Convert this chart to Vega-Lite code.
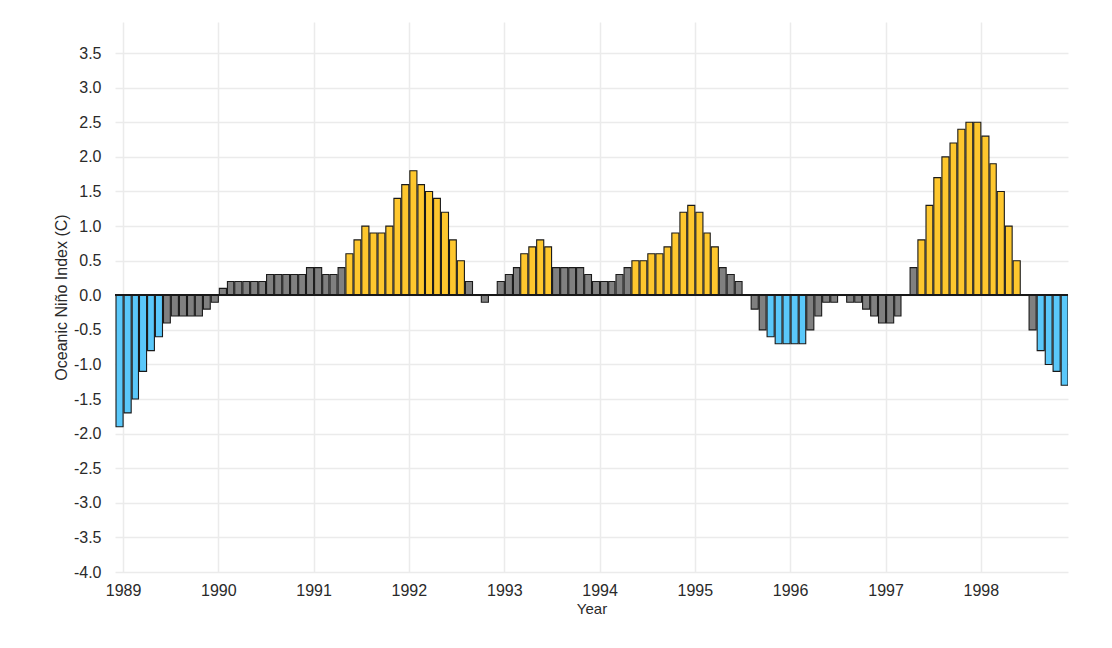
{
  "$schema": "https://vega.github.io/schema/vega-lite/v6.json",
  "width": 953,
  "height": 550,
  "autosize": {"type": "none"},
  "padding": {"left": 115, "top": 22, "right": 44, "bottom": 76},
  "background": "white",
  "config": {
    "locale": {"number": {"decimal": ".", "thousands": ",", "grouping": [3], "currency": ["$", ""], "minus": "-"}},
    "font": "Liberation Sans",
    "view": {"stroke": null},
    "axis": {
      "labelFont": "Liberation Sans",
      "titleFont": "Liberation Sans",
      "labelFontSize": 16,
      "titleFontSize": 15,
      "titleFontWeight": "normal",
      "labelColor": "#2a2a2a",
      "titleColor": "#2a2a2a",
      "gridColor": "#ebebeb",
      "gridWidth": 1.5,
      "domain": false,
      "ticks": false,
      "labelOverlap": false
    }
  },
  "data": {
    "values": [
      {"date": "1988-12-01", "oni": -1.9, "phase": "La Niña"},
      {"date": "1989-01-01", "oni": -1.7, "phase": "La Niña"},
      {"date": "1989-02-01", "oni": -1.5, "phase": "La Niña"},
      {"date": "1989-03-01", "oni": -1.1, "phase": "La Niña"},
      {"date": "1989-04-01", "oni": -0.8, "phase": "La Niña"},
      {"date": "1989-05-01", "oni": -0.6, "phase": "La Niña"},
      {"date": "1989-06-01", "oni": -0.4, "phase": "Neutral"},
      {"date": "1989-07-01", "oni": -0.3, "phase": "Neutral"},
      {"date": "1989-08-01", "oni": -0.3, "phase": "Neutral"},
      {"date": "1989-09-01", "oni": -0.3, "phase": "Neutral"},
      {"date": "1989-10-01", "oni": -0.3, "phase": "Neutral"},
      {"date": "1989-11-01", "oni": -0.2, "phase": "Neutral"},
      {"date": "1989-12-01", "oni": -0.1, "phase": "Neutral"},
      {"date": "1990-01-01", "oni": 0.1, "phase": "Neutral"},
      {"date": "1990-02-01", "oni": 0.2, "phase": "Neutral"},
      {"date": "1990-03-01", "oni": 0.2, "phase": "Neutral"},
      {"date": "1990-04-01", "oni": 0.2, "phase": "Neutral"},
      {"date": "1990-05-01", "oni": 0.2, "phase": "Neutral"},
      {"date": "1990-06-01", "oni": 0.2, "phase": "Neutral"},
      {"date": "1990-07-01", "oni": 0.3, "phase": "Neutral"},
      {"date": "1990-08-01", "oni": 0.3, "phase": "Neutral"},
      {"date": "1990-09-01", "oni": 0.3, "phase": "Neutral"},
      {"date": "1990-10-01", "oni": 0.3, "phase": "Neutral"},
      {"date": "1990-11-01", "oni": 0.3, "phase": "Neutral"},
      {"date": "1990-12-01", "oni": 0.4, "phase": "Neutral"},
      {"date": "1991-01-01", "oni": 0.4, "phase": "Neutral"},
      {"date": "1991-02-01", "oni": 0.3, "phase": "Neutral"},
      {"date": "1991-03-01", "oni": 0.3, "phase": "Neutral"},
      {"date": "1991-04-01", "oni": 0.4, "phase": "Neutral"},
      {"date": "1991-05-01", "oni": 0.6, "phase": "El Niño"},
      {"date": "1991-06-01", "oni": 0.8, "phase": "El Niño"},
      {"date": "1991-07-01", "oni": 1.0, "phase": "El Niño"},
      {"date": "1991-08-01", "oni": 0.9, "phase": "El Niño"},
      {"date": "1991-09-01", "oni": 0.9, "phase": "El Niño"},
      {"date": "1991-10-01", "oni": 1.0, "phase": "El Niño"},
      {"date": "1991-11-01", "oni": 1.4, "phase": "El Niño"},
      {"date": "1991-12-01", "oni": 1.6, "phase": "El Niño"},
      {"date": "1992-01-01", "oni": 1.8, "phase": "El Niño"},
      {"date": "1992-02-01", "oni": 1.6, "phase": "El Niño"},
      {"date": "1992-03-01", "oni": 1.5, "phase": "El Niño"},
      {"date": "1992-04-01", "oni": 1.4, "phase": "El Niño"},
      {"date": "1992-05-01", "oni": 1.2, "phase": "El Niño"},
      {"date": "1992-06-01", "oni": 0.8, "phase": "El Niño"},
      {"date": "1992-07-01", "oni": 0.5, "phase": "El Niño"},
      {"date": "1992-08-01", "oni": 0.2, "phase": "Neutral"},
      {"date": "1992-09-01", "oni": 0.0, "phase": "Neutral"},
      {"date": "1992-10-01", "oni": -0.1, "phase": "Neutral"},
      {"date": "1992-11-01", "oni": 0.0, "phase": "Neutral"},
      {"date": "1992-12-01", "oni": 0.2, "phase": "Neutral"},
      {"date": "1993-01-01", "oni": 0.3, "phase": "Neutral"},
      {"date": "1993-02-01", "oni": 0.4, "phase": "Neutral"},
      {"date": "1993-03-01", "oni": 0.6, "phase": "El Niño"},
      {"date": "1993-04-01", "oni": 0.7, "phase": "El Niño"},
      {"date": "1993-05-01", "oni": 0.8, "phase": "El Niño"},
      {"date": "1993-06-01", "oni": 0.7, "phase": "El Niño"},
      {"date": "1993-07-01", "oni": 0.4, "phase": "Neutral"},
      {"date": "1993-08-01", "oni": 0.4, "phase": "Neutral"},
      {"date": "1993-09-01", "oni": 0.4, "phase": "Neutral"},
      {"date": "1993-10-01", "oni": 0.4, "phase": "Neutral"},
      {"date": "1993-11-01", "oni": 0.3, "phase": "Neutral"},
      {"date": "1993-12-01", "oni": 0.2, "phase": "Neutral"},
      {"date": "1994-01-01", "oni": 0.2, "phase": "Neutral"},
      {"date": "1994-02-01", "oni": 0.2, "phase": "Neutral"},
      {"date": "1994-03-01", "oni": 0.3, "phase": "Neutral"},
      {"date": "1994-04-01", "oni": 0.4, "phase": "Neutral"},
      {"date": "1994-05-01", "oni": 0.5, "phase": "El Niño"},
      {"date": "1994-06-01", "oni": 0.5, "phase": "El Niño"},
      {"date": "1994-07-01", "oni": 0.6, "phase": "El Niño"},
      {"date": "1994-08-01", "oni": 0.6, "phase": "El Niño"},
      {"date": "1994-09-01", "oni": 0.7, "phase": "El Niño"},
      {"date": "1994-10-01", "oni": 0.9, "phase": "El Niño"},
      {"date": "1994-11-01", "oni": 1.2, "phase": "El Niño"},
      {"date": "1994-12-01", "oni": 1.3, "phase": "El Niño"},
      {"date": "1995-01-01", "oni": 1.2, "phase": "El Niño"},
      {"date": "1995-02-01", "oni": 0.9, "phase": "El Niño"},
      {"date": "1995-03-01", "oni": 0.7, "phase": "El Niño"},
      {"date": "1995-04-01", "oni": 0.4, "phase": "Neutral"},
      {"date": "1995-05-01", "oni": 0.3, "phase": "Neutral"},
      {"date": "1995-06-01", "oni": 0.2, "phase": "Neutral"},
      {"date": "1995-07-01", "oni": 0.0, "phase": "Neutral"},
      {"date": "1995-08-01", "oni": -0.2, "phase": "Neutral"},
      {"date": "1995-09-01", "oni": -0.5, "phase": "Neutral"},
      {"date": "1995-10-01", "oni": -0.6, "phase": "La Niña"},
      {"date": "1995-11-01", "oni": -0.7, "phase": "La Niña"},
      {"date": "1995-12-01", "oni": -0.7, "phase": "La Niña"},
      {"date": "1996-01-01", "oni": -0.7, "phase": "La Niña"},
      {"date": "1996-02-01", "oni": -0.7, "phase": "La Niña"},
      {"date": "1996-03-01", "oni": -0.5, "phase": "Neutral"},
      {"date": "1996-04-01", "oni": -0.3, "phase": "Neutral"},
      {"date": "1996-05-01", "oni": -0.1, "phase": "Neutral"},
      {"date": "1996-06-01", "oni": -0.1, "phase": "Neutral"},
      {"date": "1996-07-01", "oni": 0.0, "phase": "Neutral"},
      {"date": "1996-08-01", "oni": -0.1, "phase": "Neutral"},
      {"date": "1996-09-01", "oni": -0.1, "phase": "Neutral"},
      {"date": "1996-10-01", "oni": -0.2, "phase": "Neutral"},
      {"date": "1996-11-01", "oni": -0.3, "phase": "Neutral"},
      {"date": "1996-12-01", "oni": -0.4, "phase": "Neutral"},
      {"date": "1997-01-01", "oni": -0.4, "phase": "Neutral"},
      {"date": "1997-02-01", "oni": -0.3, "phase": "Neutral"},
      {"date": "1997-03-01", "oni": 0.0, "phase": "Neutral"},
      {"date": "1997-04-01", "oni": 0.4, "phase": "Neutral"},
      {"date": "1997-05-01", "oni": 0.8, "phase": "El Niño"},
      {"date": "1997-06-01", "oni": 1.3, "phase": "El Niño"},
      {"date": "1997-07-01", "oni": 1.7, "phase": "El Niño"},
      {"date": "1997-08-01", "oni": 2.0, "phase": "El Niño"},
      {"date": "1997-09-01", "oni": 2.2, "phase": "El Niño"},
      {"date": "1997-10-01", "oni": 2.4, "phase": "El Niño"},
      {"date": "1997-11-01", "oni": 2.5, "phase": "El Niño"},
      {"date": "1997-12-01", "oni": 2.5, "phase": "El Niño"},
      {"date": "1998-01-01", "oni": 2.3, "phase": "El Niño"},
      {"date": "1998-02-01", "oni": 1.9, "phase": "El Niño"},
      {"date": "1998-03-01", "oni": 1.5, "phase": "El Niño"},
      {"date": "1998-04-01", "oni": 1.0, "phase": "El Niño"},
      {"date": "1998-05-01", "oni": 0.5, "phase": "El Niño"},
      {"date": "1998-06-01", "oni": 0.0, "phase": "Neutral"},
      {"date": "1998-07-01", "oni": -0.5, "phase": "Neutral"},
      {"date": "1998-08-01", "oni": -0.8, "phase": "La Niña"},
      {"date": "1998-09-01", "oni": -1.0, "phase": "La Niña"},
      {"date": "1998-10-01", "oni": -1.1, "phase": "La Niña"},
      {"date": "1998-11-01", "oni": -1.3, "phase": "La Niña"},
      {"date": "1998-12-01", "oni": -1.4, "phase": "La Niña"}
    ]
  },
  "layer": [
    {
      "mark": {"type": "bar", "stroke": "#1a1a1a", "strokeWidth": 1.1, "clip": true, "timeUnitBandSize": 1, "timeUnitBandPosition": 0},
      "encoding": {
        "x": {
          "field": "date",
          "timeUnit": "utcyearmonth",
          "type": "temporal",
          "scale": {"type": "utc", "domain": [{"year": 1988, "month": 12, "date": 1, "utc": true}, {"year": 1998, "month": 12, "date": 1, "utc": true}]},
          "axis": {"format": "%Y", "tickCount": "year", "labelPadding": 10, "title": "Year", "titlePadding": 3, "labelFlush": false}
        },
        "y": {
          "field": "oni",
          "type": "quantitative",
          "scale": {"domain": [-4, 3.95], "nice": false, "zero": false},
          "axis": {"values": [-4, -3.5, -3, -2.5, -2, -1.5, -1, -0.5, 0, 0.5, 1, 1.5, 2, 2.5, 3, 3.5], "tickCount": 40, "format": ".1f", "labelPadding": 14, "title": "Oceanic Niño Index (C)", "titlePadding": 4, "titleFontSize": 16}
        },
        "color": {
          "field": "phase",
          "type": "nominal",
          "scale": {"domain": ["El Niño", "Neutral", "La Niña"], "range": ["#fec72e", "#808080", "#5ac8fa"]},
          "legend": null
        }
      }
    },
    {
      "mark": {"type": "rule", "color": "#1a1a1a", "strokeWidth": 1.2},
      "encoding": {"y": {"datum": 0}}
    }
  ]
}
